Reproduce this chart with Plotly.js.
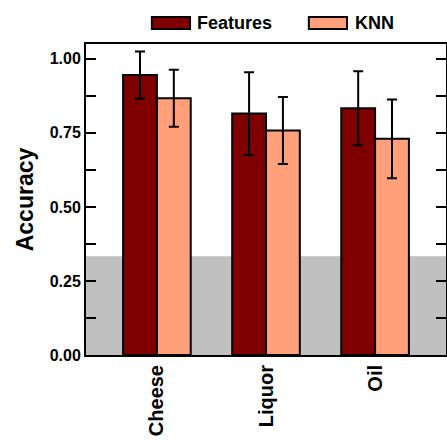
<!DOCTYPE html>
<html>
<head>
<meta charset="utf-8">
<script src="https://cdn.plot.ly/plotly-3.0.1.min.js"></script>
<style>html,body{margin:0;padding:0;background:#fff;}#chart{width:447px;height:440px;}</style>
</head>
<body>
<div id="chart"></div>
<script>
const categories = ['Cheese', 'Liquor', 'Oil'];
const seriesNames = ['Features', 'KNN'];
const featuresAcc = [0.945, 0.815, 0.833];
const featuresErr = [0.080, 0.140, 0.125];
const knnAcc = [0.867, 0.758, 0.730];
const knnErr = [0.096, 0.113, 0.133];
const chanceLevel = 1 / 3;
const yTickVals = [0, 0.125, 0.25, 0.375, 0.5, 0.625, 0.75, 0.875, 1.0];
const yTickText = ['0.00', '', '0.25', '', '0.50', '', '0.75', '', '1.00'];
const colors = ['#7f0000', '#ffa07a'];

const font = 'Liberation Sans, Arial, sans-serif';

function barTrace(name, y, err, color) {
  return {
    type: 'bar', name: name, x: categories, y: y,
    marker: {color: color, line: {color: '#000', width: 2}},
    error_y: {type: 'data', array: err, visible: true, color: '#000', thickness: 2, width: 5},
    showlegend: false
  };
}

const data = [
  barTrace(seriesNames[0], featuresAcc, featuresErr, colors[0]),
  barTrace(seriesNames[1], knnAcc, knnErr, colors[1])
];

// custom legend (wide swatches)
const legendSw = [[0.183, 0.289], [0.619, 0.725]];
const legendTx = [0.303, 0.742];
const shapes = [{
  type: 'rect', xref: 'paper', yref: 'y', x0: 0, x1: 1, y0: 0, y1: chanceLevel,
  fillcolor: '#c0c0c0', line: {width: 0}, layer: 'below'
}];
const annotations = [];
seriesNames.forEach((n, i) => {
  shapes.push({type: 'rect', xref: 'paper', yref: 'paper', x0: legendSw[i][0], x1: legendSw[i][1],
    y0: 1.048, y1: 1.087, fillcolor: colors[i], line: {color: '#000', width: 2}});
  annotations.push({xref: 'paper', yref: 'paper', x: legendTx[i], y: 1.0675, xanchor: 'left', yanchor: 'middle',
    text: '<b>' + n + '</b>', showarrow: false, font: {family: font, size: 18, color: '#000'}});
});

const layout = {
  width: 447, height: 440,
  margin: {l: 86, r: 1, t: 44, b: 85},
  paper_bgcolor: '#fff', plot_bgcolor: 'rgba(0,0,0,0)',
  barmode: 'group', bargap: 0.38, bargroupgap: 0,
  showlegend: false,
  font: {family: font, color: '#000'},
  xaxis: {
    type: 'category', range: [-0.65, 2.65],
    showline: true, mirror: true, linecolor: '#000', linewidth: 2,
    ticks: '', tickangle: -90, showgrid: false, zeroline: false,
    tickfont: {family: font, size: 20, color: '#000', weight: 'bold'},
    fixedrange: true
  },
  yaxis: {
    range: [0, 1.05],
    tickvals: yTickVals, ticktext: yTickText,
    showline: true, mirror: 'ticks', linecolor: '#000', linewidth: 2,
    ticks: 'inside', ticklen: 10, tickwidth: 2, tickcolor: '#000',
    showgrid: false, zeroline: false,
    tickfont: {family: font, size: 16, color: '#000', weight: 'bold'},
    title: {text: '<b>Accuracy</b>', font: {family: font, size: 23, color: '#000'}, standoff: 10},
    fixedrange: true
  },
  shapes: shapes,
  annotations: annotations
};

Plotly.newPlot('chart', data, layout, {displayModeBar: false, staticPlot: true});
</script>
</body>
</html>
